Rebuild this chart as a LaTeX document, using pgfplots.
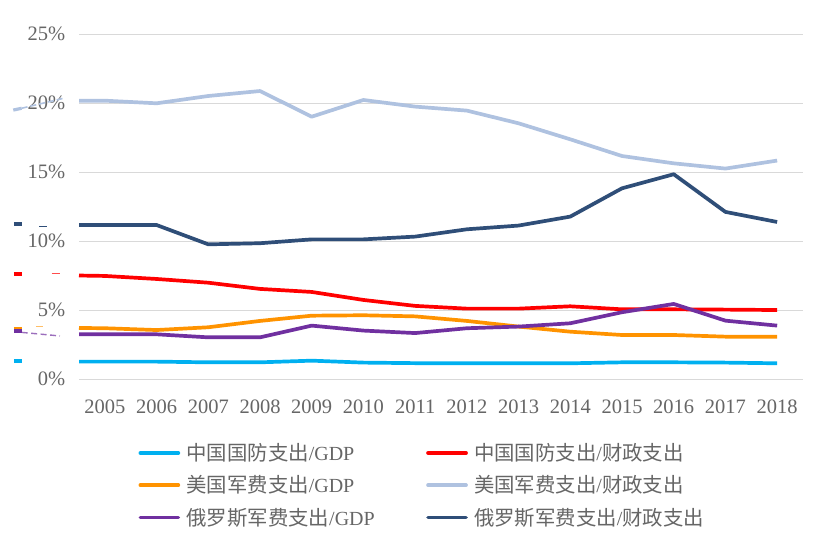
\documentclass[border=0pt]{standalone}
\usepackage{pgfplots}
\pgfplotsset{compat=1.18}
\usepackage{fontspec}
\setmainfont{Liberation Serif}
\newfontfamily\cjk{Noto Sans CJK SC}[Scale=1.02]
\definecolor{cCyan}{HTML}{00B0F0}
\definecolor{cRed}{HTML}{FF0000}
\definecolor{cOrange}{HTML}{FF9300}
\definecolor{cLight}{HTML}{AFC2E0}
\definecolor{cNavy}{HTML}{2F4E78}
\definecolor{cPurple}{HTML}{7030A0}
\definecolor{txtgray}{HTML}{666666}
\definecolor{gridgray}{HTML}{D9D9D9}
\begin{document}
\begin{tikzpicture}
\useasboundingbox (0pt,0pt) rectangle (820pt,536pt);
\begin{axis}[
  at={(79pt,156.7pt)}, anchor=south west,
  scale only axis, width=724pt, height=345pt,
  xmin=-0.5, xmax=13.5, ymin=0, ymax=25,
  clip=false,
  xtick={0,1,2,3,4,5,6,7,8,9,10,11,12,13},
  xticklabels={2005,2006,2007,2008,2009,2010,2011,2012,2013,2014,2015,2016,2017,2018},
  ytick={0,5,10,15,20,25},
  yticklabels={0\%,5\%,10\%,15\%,20\%,25\%},
  ymajorgrids,
  major grid style={draw=gridgray, line width=1pt},
  axis line style={draw=none},
  tick style={draw=none},
  ticklabel style={font=\fontsize{20.5}{24}\selectfont, text=txtgray},
  xticklabel style={anchor=north, inner sep=0pt, text height=13.4pt, text depth=0pt, yshift=-20.7pt},
  yticklabel style={anchor=east, inner sep=0pt, xshift=-13.5pt},
  every axis plot/.append style={line width=3.7pt, line join=round},
  legend columns=2,
  legend cell align=left,
  legend image code/.code={\draw[#1, line cap=round] (1.8pt,0pt) -- (39.8pt,0pt); \path (0pt,0pt) (46pt,0pt);},
  legend style={draw=none, fill=none, inner sep=0pt, outer sep=0pt,
    at={(axis description cs:0.0797,-0.1916)}, anchor=north west,
    column sep=0pt, row sep=17pt,
    font=\fontsize{20}{24}\selectfont, text=txtgray,
    nodes={inner sep=0pt, outer sep=0pt, text height=15.2pt, text depth=0pt}},
]
% China defence / GDP
\addplot[cCyan] coordinates {(-0.5,1.28)(0,1.28)(1,1.28)(2,1.23)(3,1.23)(4,1.35)(5,1.21)(6,1.17)(7,1.16)(8,1.16)(9,1.16)(10,1.23)(11,1.23)(12,1.21)(13,1.16)};
\addlegendentry{\makebox[238pt][l]{{\cjk 中国国防支出}/GDP}}
% China defence / fiscal
\addplot[cRed] coordinates {(-0.5,7.52)(0,7.49)(1,7.27)(2,7.0)(3,6.55)(4,6.33)(5,5.75)(6,5.32)(7,5.12)(8,5.12)(9,5.29)(10,5.07)(11,5.07)(12,5.05)(13,5.02)};
\addlegendentry{{\cjk 中国国防支出}/{\cjk 财政支出}}
% US / GDP
\addplot[cOrange] coordinates {(-0.5,3.72)(0,3.70)(1,3.57)(2,3.77)(3,4.23)(4,4.61)(5,4.64)(6,4.56)(7,4.23)(8,3.82)(9,3.45)(10,3.21)(11,3.21)(12,3.09)(13,3.09)};
\addlegendentry{\makebox[238pt][l]{{\cjk 美国军费支出}/GDP}}
% US / fiscal
\addplot[cLight] coordinates {(-0.5,20.19)(0,20.19)(1,20.0)(2,20.53)(3,20.89)(4,19.03)(5,20.24)(6,19.76)(7,19.47)(8,18.55)(9,17.39)(10,16.18)(11,15.65)(12,15.27)(13,15.85)};
\addlegendentry{{\cjk 美国军费支出}/{\cjk 财政支出}}
% Russia / GDP
\addplot[cPurple] coordinates {(-0.5,3.26)(0,3.26)(1,3.26)(2,3.04)(3,3.04)(4,3.89)(5,3.53)(6,3.35)(7,3.70)(8,3.82)(9,4.06)(10,4.86)(11,5.46)(12,4.25)(13,3.89)};
\addlegendentry{\makebox[238pt][l]{{\cjk 俄罗斯军费支出}/GDP}}
% Russia / fiscal
\addplot[cNavy] coordinates {(-0.5,11.18)(0,11.18)(1,11.18)(2,9.78)(3,9.86)(4,10.14)(5,10.14)(6,10.34)(7,10.87)(8,11.14)(9,11.79)(10,13.84)(11,14.86)(12,12.13)(13,11.40)};
\addlegendentry{{\cjk 俄罗斯军费支出}/{\cjk 财政支出}}
% stray marks to the left of the plot
\addplot[cLight, forget plot, line width=3.2pt] coordinates {(-1.771,19.51)(-1.609,19.64)};
\addplot[cLight, forget plot, line width=1.6pt, dash pattern=on 6pt off 3pt] coordinates {(-1.609,19.64)(-0.804,20.36)};
\addplot[cNavy, forget plot, line width=3.2pt] coordinates {(-1.758,11.25)(-1.609,11.25)};
\addplot[cNavy, forget plot, line width=1.4pt] coordinates {(-1.269,11.06)(-1.126,11.06)};
\addplot[cRed, forget plot, line width=3.2pt] coordinates {(-1.758,7.63)(-1.609,7.63)};
\addplot[cRed, forget plot, line width=1.4pt, opacity=0.7] coordinates {(-1.029,7.68)(-0.868,7.68)};
\addplot[cOrange, forget plot, line width=3.2pt] coordinates {(-1.758,3.70)(-1.609,3.70)};
\addplot[cOrange, forget plot, line width=1.4pt, opacity=0.6] coordinates {(-1.332,3.81)(-1.191,3.81)};
\addplot[cPurple, forget plot, line width=3.2pt] coordinates {(-1.758,3.50)(-1.609,3.50)};
\addplot[cPurple, forget plot, line width=1.4pt, opacity=0.7, dash pattern=on 6pt off 3.5pt] coordinates {(-1.609,3.40)(-0.868,3.14)};
\addplot[cCyan, forget plot, line width=3.2pt] coordinates {(-1.758,1.33)(-1.609,1.33)};
\end{axis}
\end{tikzpicture}
\end{document}
